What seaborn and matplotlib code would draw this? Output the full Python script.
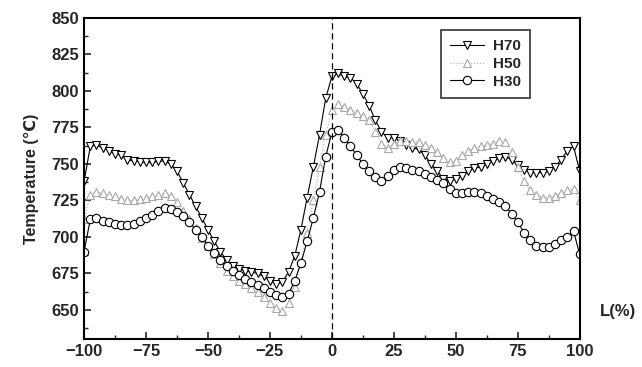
import numpy as np
import pandas as pd
import seaborn as sns
import matplotlib.pyplot as plt
from matplotlib.ticker import MultipleLocator

# ---- data (L in %, temperature in deg C) ----
L = np.arange(-100, 100.1, 2.5)

h70 = [738, 762, 763, 761, 759, 757, 756, 753, 752, 751.5, 751, 751, 752, 752, 750, 745,
       737, 729, 721, 713, 705, 697, 690, 684, 680, 678, 677, 676, 675, 673, 670, 668,
       669, 676, 687, 705, 727, 748, 770, 795, 810, 812, 810, 809, 805, 798, 790, 780,
       772, 768, 768, 766, 763, 761, 760, 756, 750, 745, 740, 738, 740, 742, 745, 747,
       748, 750, 752, 754, 755, 753, 749, 746, 744, 744, 744, 745, 748, 753, 759, 762, 745]

h50 = [712, 729, 731, 730, 729, 728, 726, 725, 725, 726, 727, 728, 729, 730, 728, 724,
       718, 712, 706, 699, 694, 688, 682, 677, 673, 670, 668, 665, 662, 659, 655, 651,
       649, 655, 666, 683, 703, 725, 748, 770, 787, 791, 789, 787, 785, 783, 780, 772,
       764, 761, 764, 766, 766, 765, 765, 763, 761, 758, 754, 751, 752, 756, 759, 761,
       762, 763, 764, 766, 765, 758, 748, 738, 732, 729, 727, 727, 728, 730, 732, 733, 725]

h30 = [690, 712, 713, 711, 710, 709, 708, 708, 709, 711, 713, 715, 718, 720, 719, 717,
       714, 710, 705, 700, 694, 689, 684, 680, 677, 674, 671, 669, 667, 665, 662, 660,
       659, 661, 670, 682, 697, 713, 731, 755, 772, 773, 768, 762, 756, 750, 745, 741,
       738, 742, 746, 748, 747, 746, 745, 743, 741, 739, 737, 733, 730, 730, 731, 731,
       730, 728, 726, 724, 721, 716, 710, 703, 698, 694, 693, 693, 695, 698, 700, 704, 688]

df = pd.DataFrame({'L': L, 'H70': h70, 'H50': h50, 'H30': h30})

# ---- style ----
sns.set_style("ticks")
plt.rcParams['font.family'] = ['Liberation Sans', 'DejaVu Sans']
plt.rcParams['font.weight'] = 'bold'

fig = plt.figure(figsize=(6.42, 3.67), dpi=100)
ax = fig.add_axes([0.131, 0.076, 0.772, 0.875])

sns.lineplot(data=df, x='L', y='H70', ax=ax, color='black', lw=0.8,
             marker='v', ms=6, mfc='white', mec='black', mew=0.8, label='H70')
sns.lineplot(data=df, x='L', y='H50', ax=ax, color='#b0b0b0', lw=0.8, ls=':',
             marker='^', ms=6, mfc='white', mec='#a8a8a8', mew=0.8, label='H50')
sns.lineplot(data=df, x='L', y='H30', ax=ax, color='black', lw=0.8,
             marker='o', ms=6, mfc='white', mec='black', mew=0.8, label='H30')

ax.axvline(0, color='black', ls=(0, (5, 3)), lw=0.9)

ax.set_xlim(-100, 100)
ax.set_ylim(630, 850)
ax.xaxis.set_major_locator(MultipleLocator(25))
ax.xaxis.set_minor_locator(MultipleLocator(12.5))
ax.set_yticks(np.arange(650, 851, 25))
ax.yaxis.set_minor_locator(MultipleLocator(12.5))
ax.tick_params(which='major', direction='in', length=5, width=1.2, labelsize=12)
ax.tick_params(which='minor', direction='in', length=3, width=1.0)
for lab in ax.get_xticklabels() + ax.get_yticklabels():
    lab.set_fontweight('bold')

for s in ax.spines.values():
    s.set_linewidth(1.5)
    s.set_color('black')

ax.set_xlabel('')
ax.set_ylabel('Temperature (℃)', fontsize=11.5, fontweight='bold', labelpad=9)
ax.text(1.077, 0.085, 'L(%)', transform=ax.transAxes, ha='center', va='center',
        fontsize=12, fontweight='bold')

leg = ax.legend(loc='upper left', bbox_to_anchor=(0.72, 0.963), fontsize=11,
                frameon=True, fancybox=False, handlelength=2.2, handletextpad=0.6,
                borderpad=0.6, labelspacing=0.25, borderaxespad=0)
leg.get_frame().set_edgecolor('black')
leg.get_frame().set_linewidth(1.2)
for t in leg.get_texts():
    t.set_fontweight('bold')

fig.savefig('out.png', dpi=100)
